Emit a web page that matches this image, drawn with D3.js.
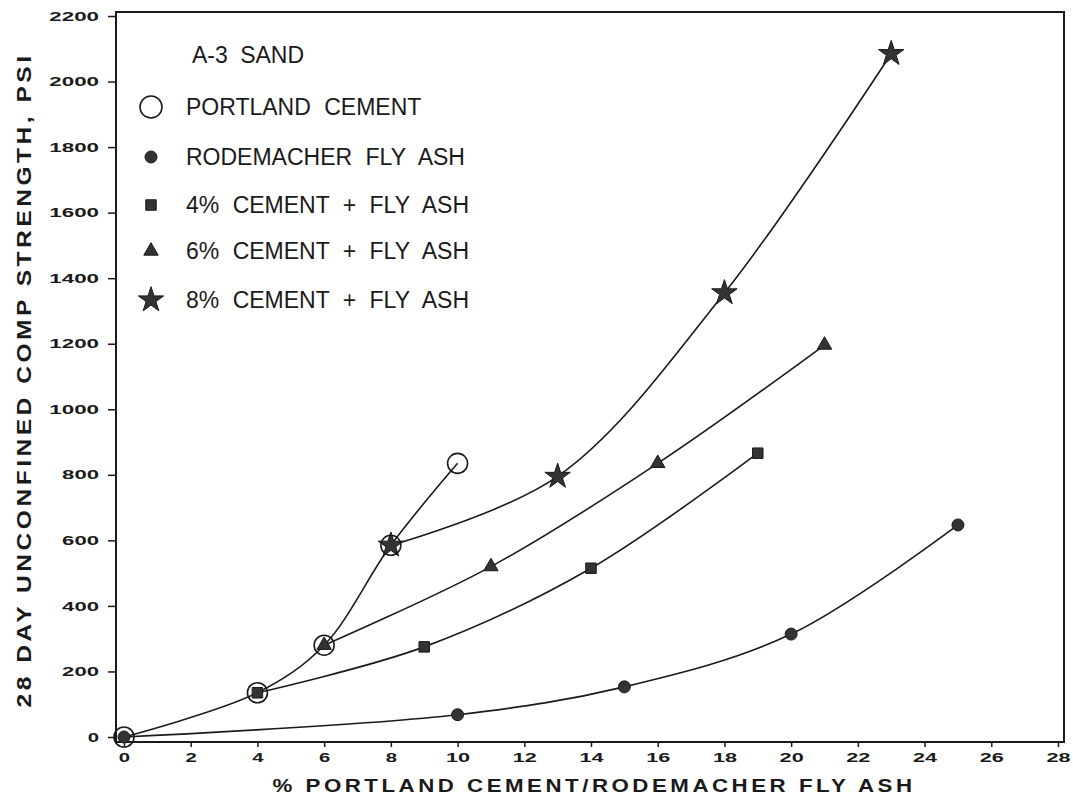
<!DOCTYPE html>
<html>
<head>
<meta charset="utf-8">
<script src="https://cdn.jsdelivr.net/npm/d3@7"></script>
<style>
  html, body { margin: 0; padding: 0; background: #fff; }
  svg { display: block; }
  text { font-family: "Liberation Sans", Arial, sans-serif; fill: #1a1a1a; }
</style>
</head>
<body>
<svg id="chart" width="1073" height="797"></svg>
<script>
// Cement / fly ash content (%) and 28-day strength (psi) per mix
const portlandX = [0, 4, 6, 8, 10];
const portlandY = [0, 135, 280, 585, 835];
const flyAshX = [0, 10, 15, 20, 25];
const flyAshY = [0, 68, 153, 314, 647];
const cement4X = [4, 9, 14, 19];
const cement4Y = [135, 275, 515, 866];
const cement6X = [6, 11, 16, 21];
const cement6Y = [280, 520, 835, 1196];
const cement8X = [8, 13, 18, 23];
const cement8Y = [585, 795, 1355, 2085];

const seriesNames = [
  "PORTLAND CEMENT",
  "RODEMACHER FLY ASH",
  "4% CEMENT + FLY ASH",
  "6% CEMENT + FLY ASH",
  "8% CEMENT + FLY ASH"
];
const legendTitle = "A-3 SAND";
const xTickValues = [0, 2, 4, 6, 8, 10, 12, 14, 16, 18, 20, 22, 24, 26, 28];
const yTickValues = [0, 200, 400, 600, 800, 1000, 1200, 1400, 1600, 1800, 2000, 2200];
const xTitle = "% PORTLAND CEMENT/RODEMACHER FLY ASH";
const yTitle = "28 DAY UNCONFINED COMP STRENGTH, PSI";

const svg = d3.select("#chart");
const ink = "#1a1a1a";

const frame = { left: 116, right: 1064, top: 12, bottom: 742 };
const x = d3.scaleLinear().domain([0, 28]).range([124, 1058]);
const y = d3.scaleLinear().domain([0, 2200]).range([737, 16]);

// stretched, squat plotter-style labels
function stretch(sel, perChar, gap) {
  sel.each(function () {
    const t = d3.select(this);
    const n = t.text().length;
    t.attr("textLength", n * perChar - gap).attr("lengthAdjust", "spacingAndGlyphs");
  });
}

// plot frame
svg.append("rect")
  .attr("x", frame.left).attr("y", frame.top)
  .attr("width", frame.right - frame.left).attr("height", frame.bottom - frame.top)
  .attr("fill", "none").attr("stroke", ink).attr("stroke-width", 2);

// y axis
const gy = svg.append("g").attr("transform", `translate(${frame.left},0)`)
  .call(d3.axisLeft(y).tickValues(yTickValues).tickSize(8).tickPadding(9).tickFormat(d3.format("d")));
gy.select(".domain").remove();
gy.selectAll(".tick line").attr("stroke", ink).attr("stroke-width", 1.5);
gy.selectAll(".tick text")
  .attr("font-size", 13).attr("font-weight", "bold").attr("fill", ink)
  .attr("font-family", "'Liberation Sans', Arial, sans-serif")
  .call(stretch, 12.8, 1.5);

// x axis
const gx = svg.append("g").attr("transform", `translate(0,${frame.bottom})`)
  .call(d3.axisBottom(x).tickValues(xTickValues).tickSize(5).tickPadding(6).tickFormat(d3.format("d")));
gx.select(".domain").remove();
gx.selectAll(".tick line").attr("stroke", ink).attr("stroke-width", 1.5);
gx.selectAll(".tick text")
  .attr("font-size", 13).attr("font-weight", "bold").attr("fill", ink)
  .attr("font-family", "'Liberation Sans', Arial, sans-serif")
  .call(stretch, 12.8, 1.5);

// axis titles
svg.append("text")
  .attr("x", 594).attr("y", 792)
  .attr("text-anchor", "middle")
  .attr("font-size", 19).attr("font-weight", "bold")
  .attr("textLength", 643).attr("lengthAdjust", "spacingAndGlyphs")
  .style("letter-spacing", "3px")
  .text(xTitle);

svg.append("text")
  .attr("transform", "translate(31,380) rotate(-90)")
  .attr("text-anchor", "middle")
  .attr("font-size", 21).attr("font-weight", "bold")
  .attr("textLength", 655).attr("lengthAdjust", "spacingAndGlyphs")
  .style("letter-spacing", "3px")
  .text(yTitle);

// series
const zip = (xs, ys) => xs.map((v, i) => [v, ys[i]]);
const series = [
  { name: seriesNames[0], pts: zip(portlandX, portlandY), mark: "ring" },
  { name: seriesNames[1], pts: zip(flyAshX, flyAshY), mark: "dot" },
  { name: seriesNames[2], pts: zip(cement4X, cement4Y), mark: "square" },
  { name: seriesNames[3], pts: zip(cement6X, cement6Y), mark: "triangle" },
  { name: seriesNames[4], pts: zip(cement8X, cement8Y), mark: "star" }
];

const line = d3.line()
  .x(d => x(d[0])).y(d => y(d[1]))
  .curve(d3.curveCatmullRom.alpha(0.5));

svg.append("g").selectAll("path")
  .data(series).join("path")
  .attr("d", d => line(d.pts))
  .attr("fill", "none").attr("stroke", ink).attr("stroke-width", 1.6);

function drawMark(g, type, cx, cy) {
  if (type === "ring") {
    g.append("circle").attr("cx", cx).attr("cy", cy).attr("r", 10)
      .attr("fill", "none").attr("stroke", ink).attr("stroke-width", 1.6);
    return;
  }
  const sym = {
    dot: [d3.symbolCircle, 113],
    square: [d3.symbolSquare, 110],
    triangle: [d3.symbolTriangle, 90],
    star: [d3.symbolStar, 200]
  }[type];
  g.append("path")
    .attr("transform", `translate(${cx},${cy})`)
    .attr("d", d3.symbol().type(sym[0]).size(sym[1])())
    .attr("fill", "#333").attr("stroke", ink).attr("stroke-width", 1);
}

const marks = svg.append("g");
// filled markers first so the open rings sit on top
series.slice(1).concat(series.slice(0, 1)).forEach(s => {
  s.pts.forEach(p => drawMark(marks, s.mark, x(p[0]), y(p[1])));
});

// legend
const legend = svg.append("g");
legend.append("text")
  .attr("x", 192).attr("y", 55).attr("dy", "0.35em")
  .attr("font-size", 23)
  .style("word-spacing", "6px")
  .text(legendTitle);
const legendRows = [107, 157, 205, 251, 300];
series.forEach((s, i) => {
  const ly = legendRows[i];
  if (s.mark === "ring") {
    legend.append("circle").attr("cx", 151).attr("cy", ly).attr("r", 11)
      .attr("fill", "none").attr("stroke", ink).attr("stroke-width", 1.6);
  } else {
    drawMark(legend, s.mark, 151, ly);
  }
  legend.append("text")
    .attr("x", 186).attr("y", ly).attr("dy", "0.36em")
    .attr("font-size", 23)
    .style("word-spacing", "7px")
    .text(s.name);
});
</script>
</body>
</html>
